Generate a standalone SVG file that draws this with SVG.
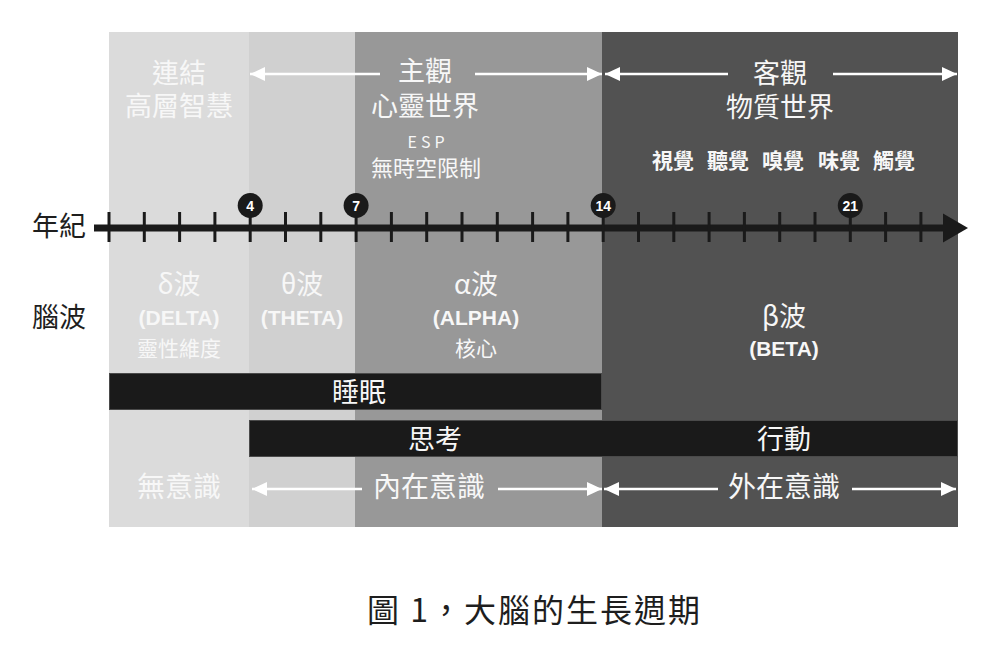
<svg xmlns="http://www.w3.org/2000/svg" width="996" height="671" viewBox="0 0 996 671">
<style>
.cjk{font-family:"Noto Sans CJK TC","Noto Sans CJK SC",sans-serif;}
.lat{font-family:"Liberation Sans",Arial,sans-serif;}
.w{fill:#f7f7f7;}
.dk{fill:#1e1e1e;}
.mid{text-anchor:middle;}
.arr{stroke:#ffffff;stroke-width:2.5;fill:none;marker-end:url(#ah);}
.tick{stroke:#1a1a1a;stroke-width:3;}
.bar{fill:#1a1a1a;stroke:#4a4a4a;stroke-width:1;}
</style>
<defs>
<marker id="ah" markerUnits="userSpaceOnUse" markerWidth="16" markerHeight="16" viewBox="0 0 16 16" refX="15" refY="8" orient="auto">
<path d="M0,1 L15,8 L0,15 z" fill="#ffffff"/>
</marker>
</defs>
<rect width="996" height="671" fill="#ffffff"/>

<g id="columns">
<rect id="col-delta" x="109" y="32" width="140" height="495" fill="#dbdbdb"/>
<rect id="col-theta" x="249" y="32" width="106" height="495" fill="#d0d0d0"/>
<rect id="col-alpha" x="355" y="32" width="247" height="495" fill="#989898"/>
<rect id="col-beta" x="602" y="32" width="356" height="495" fill="#525252"/>
</g>

<g id="top-labels" class="cjk w">
<g id="node-connect">
<text x="179" y="83" font-size="27" class="mid">連結</text>
<text x="179" y="116" font-size="27" class="mid">高層智慧</text>
</g>
<g id="node-subjective">
<text x="425" y="81" font-size="27" class="mid">主觀</text>
<text x="425" y="116" font-size="27" class="mid">心靈世界</text>
<text x="428" y="148" font-size="16" class="mid" letter-spacing="4">ESP</text>
<text x="426" y="176" font-size="22" class="mid">無時空限制</text>
</g>
<g id="node-objective">
<text x="780" y="83" font-size="27" class="mid">客觀</text>
<text x="780" y="117" font-size="27" class="mid">物質世界</text>
<g font-size="21" font-weight="bold">
<text x="652" y="168">視覺</text>
<text x="707" y="168">聽覺</text>
<text x="762" y="168">嗅覺</text>
<text x="818" y="168">味覺</text>
<text x="873" y="168">觸覺</text>
</g>
</g>
</g>

<g id="axis-labels" class="cjk dk">
<text x="32" y="236" font-size="27">年紀</text>
<text x="32" y="327" font-size="27">腦波</text>
</g>

<g id="waves" class="w">
<g id="node-delta">
<text x="179" y="294" font-size="27" class="cjk mid">δ波</text>
<text x="179" y="325" font-size="21" font-weight="bold" class="lat mid">(DELTA)</text>
<text x="179" y="356" font-size="21" class="cjk mid">靈性維度</text>
</g>
<g id="node-theta">
<text x="302" y="294" font-size="27" class="cjk mid">θ波</text>
<text x="302" y="325" font-size="21" font-weight="bold" class="lat mid">(THETA)</text>
</g>
<g id="node-alpha">
<text x="476" y="294" font-size="27" class="cjk mid">α波</text>
<text x="476" y="325" font-size="21" font-weight="bold" class="lat mid">(ALPHA)</text>
<text x="476" y="356" font-size="21" class="cjk mid">核心</text>
</g>
<g id="node-beta">
<text x="784" y="326" font-size="27" class="cjk mid">β波</text>
<text x="784" y="356" font-size="21" font-weight="bold" class="lat mid">(BETA)</text>
</g>
</g>

<g id="bars">
<g id="node-sleep">
<rect class="bar" x="109.5" y="373.5" width="492" height="36"/>
<text x="359" y="402" font-size="27" class="cjk mid w">睡眠</text>
</g>
<g id="node-think-act">
<rect class="bar" x="249.5" y="420.5" width="708" height="36"/>
<text x="435" y="449" font-size="27" class="cjk mid w">思考</text>
<text x="784" y="449" font-size="27" class="cjk mid w">行動</text>
</g>
</g>

<g id="consciousness" class="cjk w">
<text id="node-unconscious" x="179" y="497" font-size="28" class="mid">無意識</text>
<text id="node-inner" x="429" y="497" font-size="28" class="mid">內在意識</text>
<text id="node-outer" x="784" y="497" font-size="28" class="mid">外在意識</text>
</g>

<g id="connectors">
<line class="arr" x1="380" y1="74" x2="250" y2="74"/>
<line class="arr" x1="475" y1="74" x2="602" y2="74"/>
<line class="arr" x1="728" y1="74" x2="605" y2="74"/>
<line class="arr" x1="833" y1="74" x2="957" y2="74"/>
<line class="arr" x1="362" y1="489" x2="252" y2="489"/>
<line class="arr" x1="498" y1="489" x2="602" y2="489"/>
<line class="arr" x1="718" y1="489" x2="604" y2="489"/>
<line class="arr" x1="852" y1="489" x2="956" y2="489"/>

<g id="timeline">
<line x1="94" y1="228" x2="948" y2="228" stroke="#1a1a1a" stroke-width="7"/>
<path d="M943,213.5 L968,228 L943,242.5 z" fill="#1a1a1a"/>
<g class="tick">
<line x1="109" y1="212" x2="109" y2="242"/>
<line x1="144.3" y1="212" x2="144.3" y2="242"/>
<line x1="179.6" y1="212" x2="179.6" y2="242"/>
<line x1="214.9" y1="212" x2="214.9" y2="242"/>
<line x1="250.2" y1="212" x2="250.2" y2="242"/>
<line x1="285.5" y1="212" x2="285.5" y2="242"/>
<line x1="320.8" y1="212" x2="320.8" y2="242"/>
<line x1="356.1" y1="212" x2="356.1" y2="242"/>
<line x1="391.4" y1="212" x2="391.4" y2="242"/>
<line x1="426.7" y1="212" x2="426.7" y2="242"/>
<line x1="462" y1="212" x2="462" y2="242"/>
<line x1="497.3" y1="212" x2="497.3" y2="242"/>
<line x1="532.6" y1="212" x2="532.6" y2="242"/>
<line x1="567.9" y1="212" x2="567.9" y2="242"/>
<line x1="603.2" y1="212" x2="603.2" y2="242"/>
<line x1="638.5" y1="212" x2="638.5" y2="242"/>
<line x1="673.8" y1="212" x2="673.8" y2="242"/>
<line x1="709.1" y1="212" x2="709.1" y2="242"/>
<line x1="744.4" y1="212" x2="744.4" y2="242"/>
<line x1="779.7" y1="212" x2="779.7" y2="242"/>
<line x1="815" y1="212" x2="815" y2="242"/>
<line x1="850.3" y1="212" x2="850.3" y2="242"/>
<line x1="885.6" y1="212" x2="885.6" y2="242"/>
<line x1="920.9" y1="212" x2="920.9" y2="242"/>
</g>
</g>
</g>

<g id="age-markers" class="lat" font-size="14" font-weight="bold">
<g id="node-age4"><circle cx="250.2" cy="205.5" r="12.5" fill="#1a1a1a"/><text x="250.2" y="210.5" class="mid" fill="#ffffff">4</text></g>
<g id="node-age7"><circle cx="356.1" cy="205.5" r="12.5" fill="#1a1a1a"/><text x="356.1" y="210.5" class="mid" fill="#ffffff">7</text></g>
<g id="node-age14"><circle cx="603.2" cy="205.5" r="12.5" fill="#1a1a1a"/><text x="603.2" y="210.5" class="mid" fill="#ffffff">14</text></g>
<g id="node-age21"><circle cx="850.3" cy="205.5" r="12.5" fill="#1a1a1a"/><text x="850.3" y="210.5" class="mid" fill="#ffffff">21</text></g>
</g>

<g id="caption">
<text x="367" y="622" font-size="32" letter-spacing="2" class="cjk" fill="#1e1e1e">圖 1，大腦的生長週期</text>
</g>
</svg>
